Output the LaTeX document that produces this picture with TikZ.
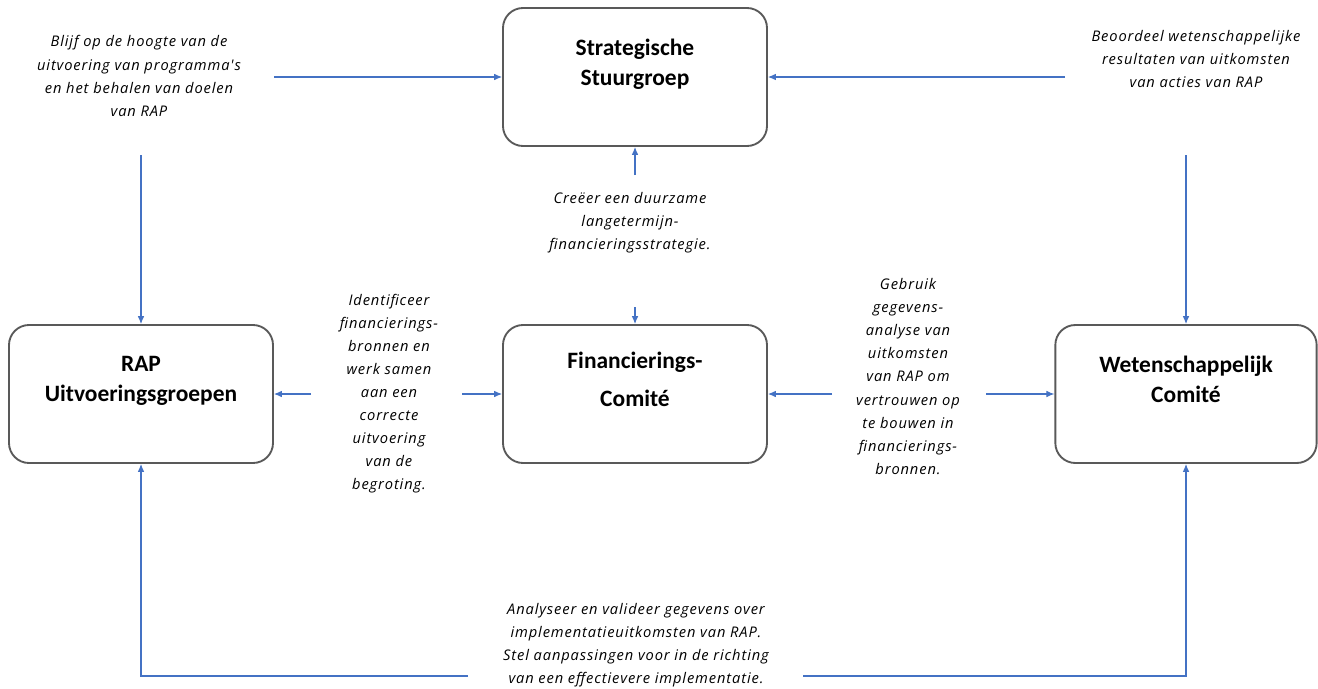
\documentclass[tikz,border=0pt]{standalone}
\usepackage{fontspec}
\setmainfont{Carlito}
\newfontfamily\notefont[LetterSpace=6]{Open Sans}
\usepackage{tikz}
\usetikzlibrary{arrows.meta}
\usetikzlibrary{positioning}
\definecolor{flowblue}{HTML}{4472C4}
\definecolor{boxgray}{HTML}{595959}
\tikzset{box/.style = {draw=boxgray, line width=1.4pt, rounded corners=15pt,
                       minimum width=198pt, minimum height=103.5pt, align=center,
                       font=\bfseries\fontsize{17.6}{22.5}\selectfont}}
\tikzset{note/.style = {align=center, font=\notefont\itshape\fontsize{11}{17.3}\selectfont}}
\tikzset{flow/.style = {draw=flowblue, line width=0.8pt, -{Latex[length=6pt,width=5pt]}}}

\begin{document}
\begin{tikzpicture}[x=0.75pt, y=-0.75pt]
    \useasboundingbox (0, 0) rectangle (1318, 689);

    % the four bodies
    \node [box] (strat) at (635, 77) {Strategische\\Stuurgroep\\~};
    \node [box] (rap) at (141, 394) {RAP\\Uitvoeringsgroepen\\~};
    \node [box] (fin) at (635, 394) {Financierings-\\[6pt]Comité\\~};
    \node [box, minimum width=196pt] (wet) at (1186, 394) {Wetenschappelijk\\Comité\\~};

    % tasks
    \node [note] (keep) at (139, 76) {Blijf op de hoogte van de\\uitvoering van programma's\\en het behalen van doelen\\van RAP};
    \node [note] (judge) at (1196, 59) {Beoordeel wetenschappelijke\\resultaten van uitkomsten\\van acties van RAP};
    \node [note] (fund) at (630, 223) {Creëer een duurzame\\langetermijn-\\financieringsstrategie.};
    \node [note] (ident) at (389, 393.5) {Identificeer\\financierings-\\bronnen en\\werk samen\\aan een\\correcte\\uitvoering\\van de\\begroting.};
    \node [note] (data) at (908, 376.5) {Gebruik\\gegevens-\\analyse van\\uitkomsten\\van RAP om\\vertrouwen op\\te bouwen in\\financierings-\\bronnen.};
    \node [note] (check) at (636, 645) {Analyseer en valideer gegevens over\\implementatieuitkomsten van RAP.\\Stel aanpassingen voor in de richting\\van een effectievere implementatie.};

    \coordinate (keepE) at (274, 77);
    \coordinate (keepS) at (141, 155);
    \coordinate (judgeW) at (1065, 77);
    \coordinate (judgeS) at (1186, 155);
    \coordinate (fundN) at (635, 175);
    \coordinate (fundS) at (635, 307);
    \coordinate (identW) at (311, 394);
    \coordinate (identE) at (462, 394);
    \coordinate (dataW) at (832, 394);
    \coordinate (dataE) at (986, 394);
    \coordinate (checkW) at (468, 676);
    \coordinate (checkE) at (803, 676);

    \draw [flow] (keepE) -- (strat.west);
    \draw [flow] (keepS) -- (rap.north);
    \draw [flow] (judgeW) -- (strat.east);
    \draw [flow] (judgeS) -- (wet.north);
    \draw [flow] (fundN) -- (strat.south);
    \draw [flow] (fundS) -- (fin.north);
    \draw [flow] (identW) -- (rap.east);
    \draw [flow] (identE) -- (fin.west);
    \draw [flow] (dataW) -- (fin.east);
    \draw [flow] (dataE) -- (wet.west);
    \draw [flow] (checkW) -| (rap.south);
    \draw [flow] (checkE) -| (wet.south);
\end{tikzpicture}
\end{document}
